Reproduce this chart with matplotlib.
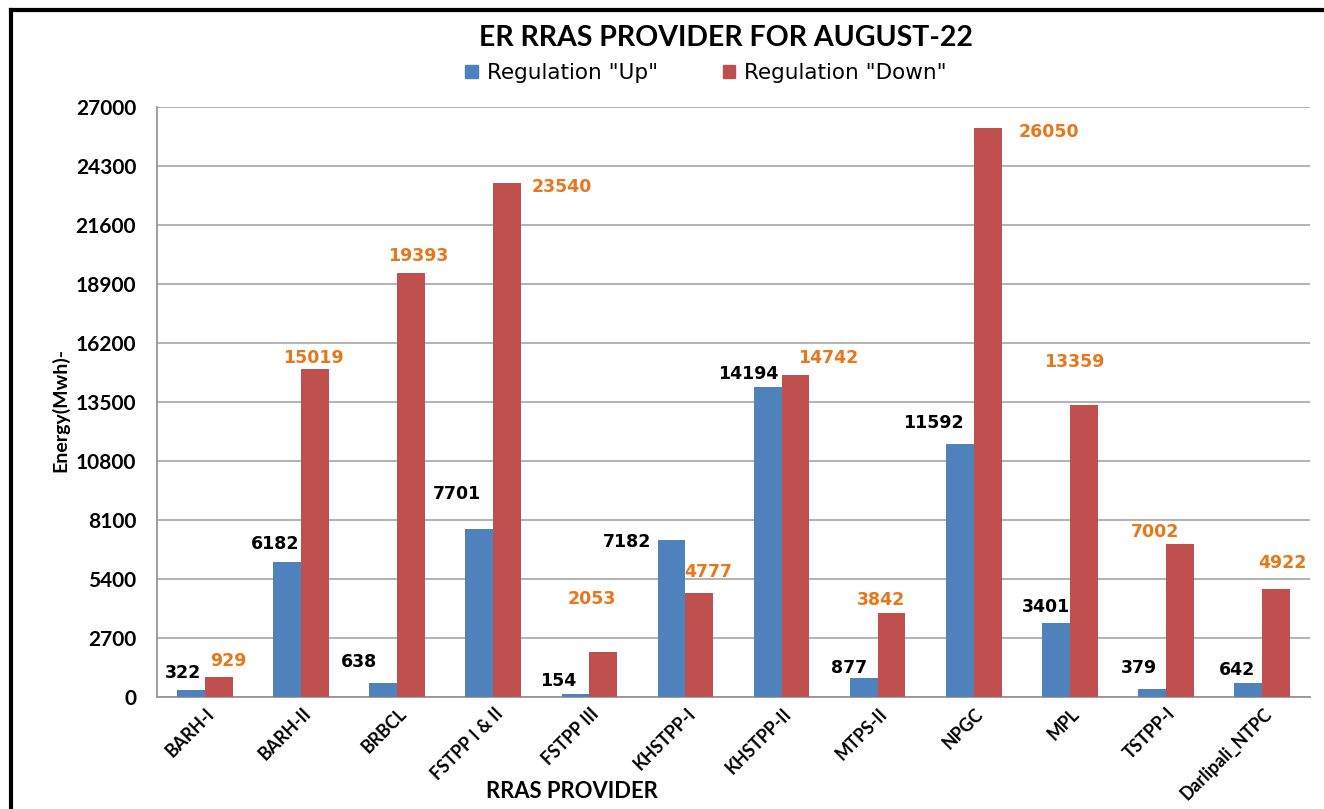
import matplotlib
matplotlib.use("Agg")
import matplotlib.pyplot as plt
import matplotlib.transforms as mtransforms
from matplotlib.lines import Line2D
from matplotlib.patches import Patch
import numpy as np

# ---- data ----
categories = ["BARH-I", "BARH-II", "BRBCL", "FSTPP I & II", "FSTPP III", "KHSTPP-I",
              "KHSTPP-II", "MTPS-II", "NPGC", "MPL", "TSTPP-I", "Darlipali_NTPC"]
reg_up = [322, 6182, 638, 7701, 154, 7182, 14194, 877, 11592, 3401, 379, 642]
reg_down = [929, 15019, 19393, 23540, 2053, 4777, 14742, 3842, 26050, 13359, 7002, 4922]
yticks = [0, 2700, 5400, 8100, 10800, 13500, 16200, 18900, 21600, 24300, 27000]
title = "ER RRAS PROVIDER FOR AUGUST-22"
series_names = ['Regulation "Up"', 'Regulation "Down"']

# label offsets (pixels) from bar top centre – styling only
up_off = [(-8, 17), (-12, 18), (-24, 21), (-22, 35), (-17, 13), (-44, -2),
          (-19, 13), (-15, 10), (-26, 21), (-10, 16), (-13, 21), (-11, 13)]
down_off = [(9, 16), (-2, 11), (7, 17), (55, -4), (-11, 53), (9, 21),
            (33, 17), (-11, 13), (61, -4), (-9, 43), (-25, 12), (7, 26)]

BLUE = "#4F81BD"
RED = "#C0504D"
ORANGE = "#E8761A"
TFONT = "Lato"
LFONT = "DejaVu Sans"

W, H = 1324, 809
fig = plt.figure(figsize=(W / 100, H / 100), dpi=100)
fig.patch.set_facecolor("white")
ax = fig.add_axes([157 / W, 1 - 697 / H, (1310 - 157) / W, (697 - 107) / H])

x = np.arange(len(categories))
bw = 0.29
ax.bar(x - bw / 2, reg_up, bw, color=BLUE, zorder=3)
ax.bar(x + bw / 2, reg_down, bw, color=RED, zorder=3)

for i in range(len(categories)):
    ax.annotate(str(reg_up[i]), xy=(x[i] - bw / 2, reg_up[i]), xytext=up_off[i],
                textcoords="offset pixels", ha="center", va="center",
                fontsize=12.5, fontweight="bold", family=LFONT, color="black", zorder=5)
    ax.annotate(str(reg_down[i]), xy=(x[i] + bw / 2, reg_down[i]), xytext=down_off[i],
                textcoords="offset pixels", ha="center", va="center",
                fontsize=12.5, fontweight="bold", family=LFONT, color=ORANGE, zorder=5)

ax.set_xlim(-0.5, len(categories) - 0.5)
ax.set_ylim(0, 27000)
ax.set_yticks(yticks)
ax.set_yticklabels([str(v) for v in yticks], fontsize=15, fontweight="bold", family=TFONT)
ax.yaxis.grid(True, color="#A6A6A6", linewidth=1.2, zorder=0)
ax.set_axisbelow(True)
ax.tick_params(axis="y", length=0, pad=15)
ax.tick_params(axis="x", length=0, pad=10)

ax.set_xticks(x)
ax.set_xticklabels(categories, rotation=45, ha="right", va="center",
                   rotation_mode="anchor", fontsize=12.8, fontweight="bold", family=TFONT)
offset = mtransforms.ScaledTranslation(7 / 100, 0, fig.dpi_scale_trans)
for lab in ax.get_xticklabels():
    lab.set_transform(lab.get_transform() + offset)

for s in ["top", "right"]:
    ax.spines[s].set_visible(False)
for s in ["left", "bottom"]:
    ax.spines[s].set_color("#969696")
    ax.spines[s].set_linewidth(1.3)

fig.text(60 / W, 1 - 410 / H, "Energy(Mwh)-", rotation=90, ha="center", va="center",
         fontsize=14, fontweight="bold", family=TFONT)
fig.text(572 / W, 1 - 792 / H, "RRAS PROVIDER", ha="center", va="center",
         fontsize=15.8, fontweight="bold", family=TFONT)
fig.text(726 / W, 1 - 38 / H, title, ha="center", va="center",
         fontsize=20.5, fontweight="bold", family=TFONT)

handles = [Patch(color=BLUE), Patch(color=RED)]
fig.legend(handles, series_names, loc="center", bbox_to_anchor=(706 / W, 1 - 73 / H),
           ncol=2, frameon=False, prop={"family": LFONT, "size": 15.5},
           handlelength=0.6, handleheight=0.6, handletextpad=0.4, columnspacing=3.0)

# outer frame (left and top edges)
fig.add_artist(Line2D([11 / W, 11 / W], [0, 1 - 9.5 / H], transform=fig.transFigure,
                      color="black", linewidth=3))
fig.add_artist(Line2D([11 / W, 1], [1 - 9.5 / H, 1 - 9.5 / H], transform=fig.transFigure,
                      color="black", linewidth=3))

fig.savefig("out.png", dpi=100)
